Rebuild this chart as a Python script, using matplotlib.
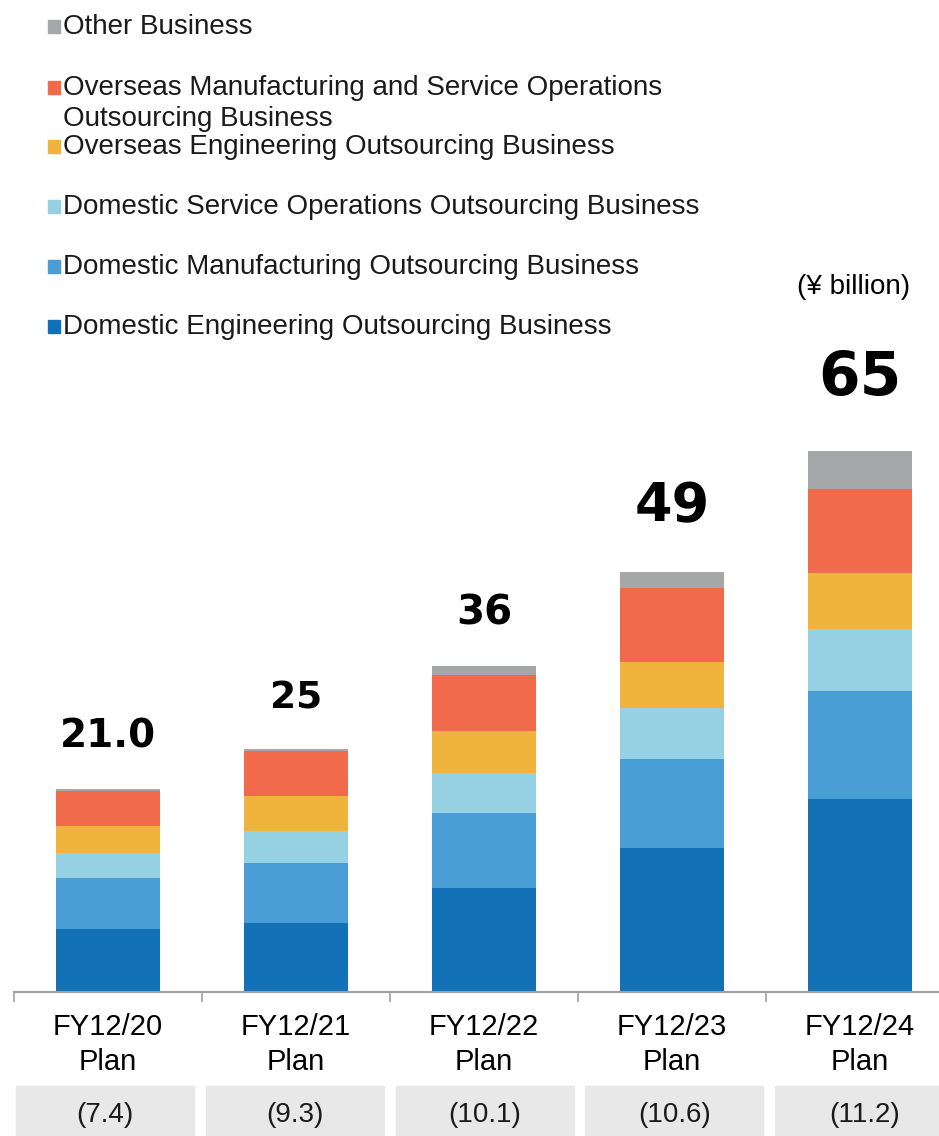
import matplotlib.pyplot as plt
from matplotlib.patches import Rectangle

# figure is 939 x 1136 px
W, H = 939, 1136
plt.rcParams['font.family'] = ['Liberation Sans', 'DejaVu Sans']

years = ['FY12/20\nPlan', 'FY12/21\nPlan', 'FY12/22\nPlan', 'FY12/23\nPlan', 'FY12/24\nPlan']
totals = ['21.0', '25', '36', '49', '65']
sub_values = [7.4, 9.3, 10.1, 10.6, 11.2]

# segment heights as drawn (the original chart is not to scale)
dom_engineering = [7.6, 8.3, 12.5, 17.3, 23.2]
dom_manufacturing = [6.1, 7.2, 9.0, 10.7, 13.0]
dom_service = [3.0, 3.8, 4.8, 6.1, 7.4]
ovs_engineering = [3.2, 4.2, 5.0, 5.6, 6.7]
ovs_manufacturing = [4.3, 5.5, 6.8, 8.8, 10.1]
other = [0.2, 0.2, 1.1, 2.0, 4.6]

series = [
    ('Domestic Engineering Outsourcing Business', dom_engineering, '#1271b7'),
    ('Domestic Manufacturing Outsourcing Business', dom_manufacturing, '#4a9ed6'),
    ('Domestic Service Operations Outsourcing Business', dom_service, '#96d0e3'),
    ('Overseas Engineering Outsourcing Business', ovs_engineering, '#f0b43d'),
    ('Overseas Manufacturing and Service Operations\nOutsourcing Business', ovs_manufacturing, '#f26a4c'),
    ('Other Business', other, '#a6a7a9'),
]

fig = plt.figure(figsize=(W / 100, H / 100), dpi=100)
ax_top_px, ax_bot_px = 360, 992
ax = fig.add_axes([14 / W, 1 - ax_bot_px / H, 940 / W, (ax_bot_px - ax_top_px) / H])
px_per_unit = 541 / 65.0
ax.set_ylim(0, (ax_bot_px - ax_top_px) / px_per_unit)
ax.set_xlim(-0.5, 4.5)

x = list(range(len(years)))
bottom = [0] * len(x)
for name, vals, color in series:
    ax.bar(x, vals, width=0.553, bottom=bottom, color=color, edgecolor='none', zorder=2)
    bottom = [b + v for b, v in zip(bottom, vals)]

# total labels above bars
label_sizes = [28, 27, 29, 39, 43]
label_gaps = [30, 29, 30, 36, 40]
for xi, top, txt, fs, gap in zip(x, bottom, totals, label_sizes, label_gaps):
    ax.annotate(txt, (xi, top), xytext=(0, gap), textcoords='offset points',
                ha='center', va='baseline', fontsize=fs, fontweight='bold',
                family='DejaVu Sans')

for s in ['top', 'right', 'left']:
    ax.spines[s].set_visible(False)
ax.spines['bottom'].set_color('#a0a0a0')
ax.spines['bottom'].set_linewidth(1.5)
ax.set_yticks([])
ax.set_xticks(x)
ax.set_xticklabels(years, fontsize=21, linespacing=1.32)
ax.tick_params(axis='x', which='major', length=0, pad=15)
ax.set_xticks([i - 0.5 for i in range(len(x) + 1)], minor=True)
ax.tick_params(axis='x', which='minor', length=7, width=1.2, color='#a0a0a0', direction='out')

# unit label
fig.text(910 / W, 1 - 294 / H, '(\u00a5 billion)', ha='right', va='baseline', fontsize=20)

# legend, drawn top to bottom (baselines in px)
legend_rows = [
    (['Other Business'], '#a6a7a9', 34),
    (['Overseas Manufacturing and Service Operations', 'Outsourcing Business'], '#f26a4c', 95),
    (['Overseas Engineering Outsourcing Business'], '#f0b43d', 154),
    (['Domestic Service Operations Outsourcing Business'], '#96d0e3', 214),
    (['Domestic Manufacturing Outsourcing Business'], '#4a9ed6', 274),
    (['Domestic Engineering Outsourcing Business'], '#1271b7', 334),
]
for lines, color, base in legend_rows:
    fig.patches.append(Rectangle((48 / W, 1 - (base - 1) / H), 12 / W, 13 / H,
                                 transform=fig.transFigure, color=color))
    for k, line in enumerate(lines):
        fig.text(63 / W, 1 - (base + 31 * k) / H, line, ha='left', va='baseline',
                 fontsize=20, color='#1a1a1a')

# grey boxes with bracketed values under each year
for i, v in enumerate(sub_values):
    left = 16 + i * 189.8
    fig.patches.append(Rectangle((left / W, 0), 178 / W, 50 / H, transform=fig.transFigure,
                                 color='#e8e8e8', zorder=0))
    fig.text((left + 89) / W, 1 - 1115 / H, f'({v})', ha='center', va='center',
             fontsize=20, color='#1a1a1a')

fig.savefig('out.png', dpi=100)
